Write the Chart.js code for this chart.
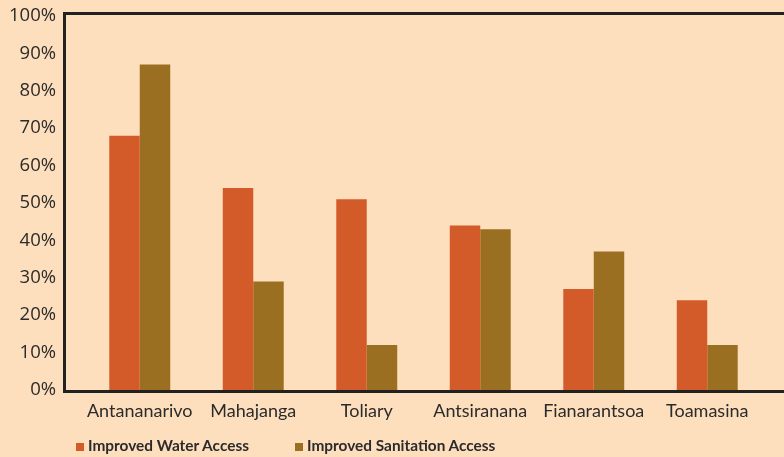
<!DOCTYPE html>
<html>
<head>
<meta charset="utf-8">
<script src="https://cdn.jsdelivr.net/npm/chart.js@4.4.0/dist/chart.umd.min.js"></script>
<style>
    body { margin: 0; background: #fddfbd; }
    #caja { position: relative; width: 784px; height: 457px; }
    .leyenda { position: absolute; top: 436px; font-family: Lato, sans-serif; font-weight: bold; font-size: 15.4px; color: #2b2b2b; white-space: nowrap; }
    .leyenda i { display: inline-block; width: 8px; height: 8px; margin-right: 4px; vertical-align: 0px; }
</style>
</head>
<body>
<div id="caja">
    <canvas id="barrasAcceso"></canvas>
    <div class="leyenda" id="leyAgua" style="left:76px"><i style="background:#d35b2a"></i>Improved Water Access</div>
    <div class="leyenda" id="leySaneamiento" style="left:295px"><i style="background:#9a6f22"></i>Improved Sanitation Access</div>
</div>
<script>
const regiones = ['Antananarivo', 'Mahajanga', 'Toliary', 'Antsiranana', 'Fianarantsoa', 'Toamasina'];
const agua = [68, 54, 51, 44, 27, 24];
const saneamiento = [87, 29, 12, 43, 37, 12];
const ticksY = [0, 10, 20, 30, 40, 50, 60, 70, 80, 90, 100];

const colorTexto = '#2b2b2b';

// marco del grafico (linea izquierda, arriba y abajo)
const marco = {
    id: 'marco',
    afterDatasetsDraw(chart) {
        const ctx = chart.ctx;
        const area = chart.chartArea;
        ctx.save();
        ctx.strokeStyle = '#222222';
        ctx.lineWidth = 3;
        ctx.beginPath();
        ctx.moveTo(784, 13.5);
        ctx.lineTo(64.5, 13.5);
        ctx.lineTo(64.5, area.bottom + 1.5);
        ctx.lineTo(784, area.bottom + 1.5);
        ctx.stroke();
        ctx.restore();
    }
};

new Chart(document.getElementById('barrasAcceso'), {
    type: 'bar',
    data: {
        labels: regiones,
        datasets: [{
            label: 'Improved Water Access',
            data: agua,
            backgroundColor: '#d35b2a'
        }, {
            label: 'Improved Sanitation Access',
            data: saneamiento,
            backgroundColor: '#9a6f22'
        }]
    },
    options: {
        responsive: true,
        maintainAspectRatio: false,
        animation: false,
        datasets: {
            bar: {
                categoryPercentage: 0.537,
                barPercentage: 1
            }
        },
        layout: {
            padding: { top: 16, right: 20, bottom: 27, left: 0 }
        },
        scales: {
            x: {
                grid: { display: false },
                border: { display: false },
                ticks: {
                    color: colorTexto,
                    padding: 2,
                    maxRotation: 0,
                    font: { family: 'Lato', size: 18 }
                },
                afterFit(scale) { scale.height = 40; }
            },
            y: {
                min: 0,
                max: 100,
                grid: { display: false },
                border: { display: false },
                afterBuildTicks(scale) {
                    scale.ticks = ticksY.map(v => ({ value: v }));
                },
                ticks: {
                    color: colorTexto,
                    padding: 19,
                    font: { family: 'Open Sans', size: 18.5 },
                    callback: v => v + '%'
                },
                afterFit(scale) {
                    scale.width = 83;
                    scale.paddingTop = 10;
                    scale.paddingBottom = 10;
                }
            }
        },
        plugins: {
            legend: { display: false },
            tooltip: { enabled: false }
        }
    },
    plugins: [marco]
});
</script>
</body>
</html>
